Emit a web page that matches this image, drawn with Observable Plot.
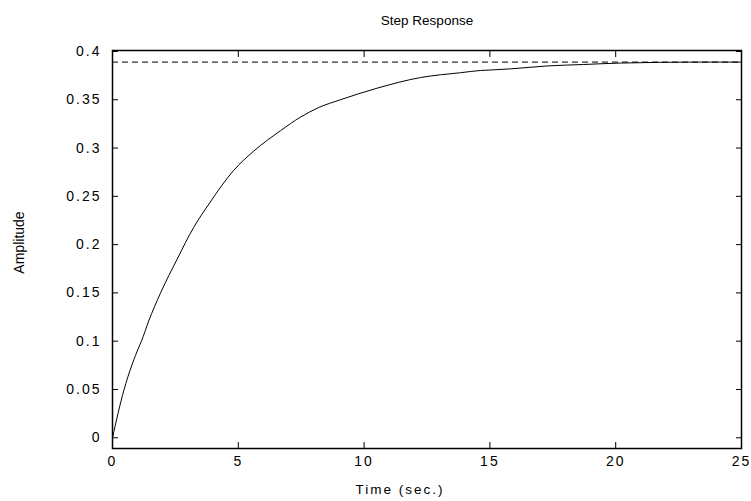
<!DOCTYPE html>
<html>
<head>
<meta charset="utf-8">
<script src="https://cdn.jsdelivr.net/npm/d3@7"></script>
<script src="https://cdn.jsdelivr.net/npm/@observablehq/plot@0.6"></script>
<style>
  html, body { margin: 0; padding: 0; background: #fff; }
  svg { display: block; }
  g[aria-label="x-axis tick label"] text,
  g[aria-label="y-axis tick label"] text { letter-spacing: 2px; }
</style>
</head>
<body>
<div id="chart"></div>
<script>
// Step response of the system: time (s) and amplitude samples
const time = [0, 0.45, 0.78, 1.05, 1.15, 1.44, 1.91, 2.57, 3.23, 3.83, 4.82, 5.62, 6.68, 7.47, 8.2, 9.06, 10.52, 12.24, 13.83, 14.63, 15.15, 15.82, 17.28, 18.72, 20.2, 23.3, 25];
const amplitude = [0, 0.049, 0.076, 0.094, 0.1, 0.121, 0.15, 0.185, 0.218, 0.242, 0.277, 0.297, 0.318, 0.332, 0.342, 0.35, 0.362, 0.373, 0.378, 0.3803, 0.381, 0.382, 0.385, 0.3865, 0.388, 0.389, 0.389];

// Final (steady-state) value
const steadyState = 0.389;

// Axis ticks and text
const xTicks = [0, 5, 10, 15, 20, 25];
const yTicks = [0, 0.05, 0.1, 0.15, 0.2, 0.25, 0.3, 0.35, 0.4];
const xDomain = [0, 25];
const yDomain = [-0.0111, 0.401];
const titleText = "Step Response";
const xLabel = "Time (sec.)";
const yLabel = "Amplitude";

const response = time.map((t, i) => ({t, v: amplitude[i]}));

const font = "Liberation Sans, Arial, sans-serif";
const fmt = d => String(d);

const chart = Plot.plot({
  width: 751,
  height: 501,
  marginLeft: 112,
  marginRight: 10,
  marginTop: 50,
  marginBottom: 53,
  style: {fontFamily: font, fontSize: "14px", color: "#000", background: "#fff"},
  x: {domain: xDomain, label: null},
  y: {domain: yDomain, label: null},
  marks: [
    // steady-state reference
    Plot.ruleY([steadyState], {stroke: "#000", strokeWidth: 1, strokeDasharray: "6,4"}),
    // response curve
    Plot.line(response, {x: "t", y: "v", stroke: "#000", strokeWidth: 1, curve: "monotone-x"}),
    Plot.frame({stroke: "#000", strokeWidth: 1.5}),
    // inward ticks on all four sides, labels on bottom and left
    Plot.axisX(xTicks, {anchor: "bottom", label: null, tickSize: -6, tickPadding: 14, tickFormat: fmt, fontSize: 14, stroke: "#000"}),
    Plot.axisX(xTicks, {anchor: "top", label: null, tickSize: -6, tickFormat: () => "", stroke: "#000"}),
    Plot.axisY(yTicks, {anchor: "left", label: null, tickSize: -6, tickPadding: 17, tickFormat: fmt, fontSize: 14, stroke: "#000"}),
    Plot.axisY(yTicks, {anchor: "right", label: null, tickSize: -6, tickFormat: () => "", stroke: "#000"}),
    // title and axis labels
    Plot.text([titleText], {frameAnchor: "top", dy: -35, fontSize: 13.5, fill: "#000"}),
    Plot.text([xLabel], {frameAnchor: "bottom", dy: 45, dx: -27, fontSize: 13.5, fill: "#000"}),
    Plot.text([yLabel], {frameAnchor: "left", textAnchor: "middle", dx: -93, dy: -7, rotate: -90, fontSize: 14, fill: "#000"})
  ]
});

// wider spacing for the x-axis label
d3.select(chart).selectAll("text")
  .filter(function() { return this.textContent === xLabel; })
  .style("letter-spacing", "2px");

document.getElementById("chart").append(chart);
</script>
</body>
</html>
